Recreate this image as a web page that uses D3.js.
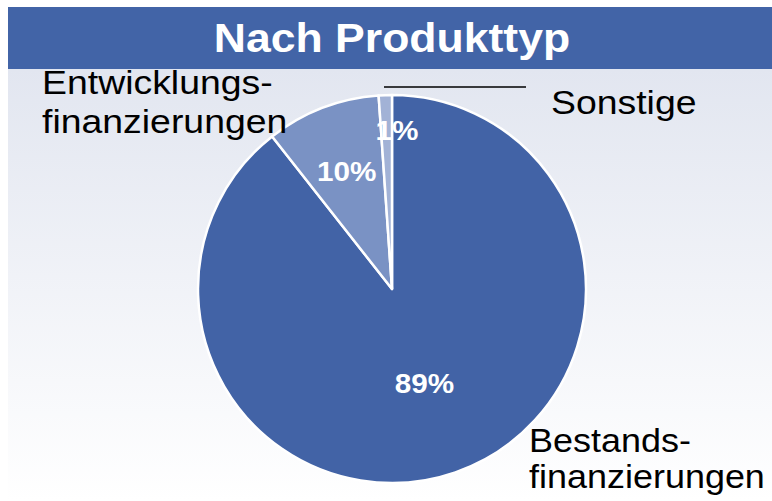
<!DOCTYPE html>
<html>
<head>
<meta charset="utf-8">
<script src="https://cdn.jsdelivr.net/npm/d3@7/dist/d3.min.js"></script>
<style>
  html, body { margin: 0; padding: 0; background: #ffffff; }
  svg { display: block; }
  text { font-family: "Liberation Sans", Arial, sans-serif; }
</style>
</head>
<body>
<svg id="chart" width="772" height="501"></svg>
<script>
const title = "Nach Produkttyp";
const categories = ["Bestandsfinanzierungen", "Entwicklungsfinanzierungen", "Sonstige"];
const labelLines = [["Bestands-", "finanzierungen"], ["Entwicklungs-", "finanzierungen"], ["Sonstige"]];
const values = [89.4, 9.5, 1.1];
const percentLabels = ["89%", "10%", "1%"];
const colors = ["#4263a6", "#7a92c4", "#a2b2d6"];

const W = 772, H = 501;
const svg = d3.select("#chart");

const defs = svg.append("defs");
const grad = defs.append("linearGradient").attr("id", "bg").attr("x1", 0).attr("y1", 0).attr("x2", 0).attr("y2", 1);
grad.append("stop").attr("offset", "0%").attr("stop-color", "#e2e6f0");
grad.append("stop").attr("offset", "100%").attr("stop-color", "#ffffff");

svg.append("rect").attr("x", 8).attr("y", 69).attr("width", W - 8).attr("height", H - 69).attr("fill", "url(#bg)");
svg.append("rect").attr("x", 8).attr("y", 7).attr("width", W - 8).attr("height", 62).attr("fill", "#4264a7");

svg.append("text")
  .attr("transform", "translate(392,52) scale(1.1,1)")
  .attr("text-anchor", "middle")
  .attr("font-size", 40.5).attr("font-weight", "bold").attr("fill", "#ffffff")
  .text(title);

const cx = 392, cy = 289, r = 194;
const pie = d3.pie().sort(null).value(d => d).startAngle(0).endAngle(2 * Math.PI);
const arcs = pie(values);
const arc = d3.arc().innerRadius(0).outerRadius(r);

const g = svg.append("g").attr("transform", `translate(${cx},${cy})`);
g.selectAll("path.slice").data(arcs).join("path")
  .attr("class", "slice")
  .attr("d", arc)
  .attr("fill", (d, i) => colors[i])
  .attr("stroke", "#ffffff").attr("stroke-width", 2.5).attr("stroke-linejoin", "round");

// percent labels
const labelRadius = [0.51, 0.65, 0.82];
g.selectAll("text.pct").data(arcs).join("text")
  .attr("class", "pct")
  .attr("transform", (d, i) => {
    let a = (d.startAngle + d.endAngle) / 2;
    if (i === 2) a = a + 0.066; // small slice label pushed over the boundary
    const rr = r * labelRadius[i];
    const x = Math.sin(a) * rr, y = -Math.cos(a) * rr;
    return `translate(${x},${y + 10}) scale(1.1,1)`;
  })
  .attr("text-anchor", "middle")
  .attr("font-size", 27).attr("font-weight", "bold").attr("fill", "#ffffff")
  .text((d, i) => percentLabels[i]);

// category labels: [x, y, line step, font size, x-scale]
const labelPos = [[529, 452, 36, 33, 1.09], [42, 94, 39, 34, 1.1], [551, 114, 0, 34, 1.1]];
labelLines.forEach((lines, i) => {
  const p = labelPos[i];
  const t = svg.append("text")
    .attr("transform", `translate(${p[0]},${p[1]}) scale(${p[4]},1)`)
    .attr("font-size", p[3]).attr("fill", "#000000");
  lines.forEach((ln, j) => {
    t.append("tspan").attr("x", 0).attr("y", j * p[2]).text(ln);
  });
});

// leader line for Sonstige
svg.append("line").attr("x1", 384).attr("y1", 87).attr("x2", 526).attr("y2", 87)
  .attr("stroke", "#000000").attr("stroke-width", 1.5);
</script>
</body>
</html>
